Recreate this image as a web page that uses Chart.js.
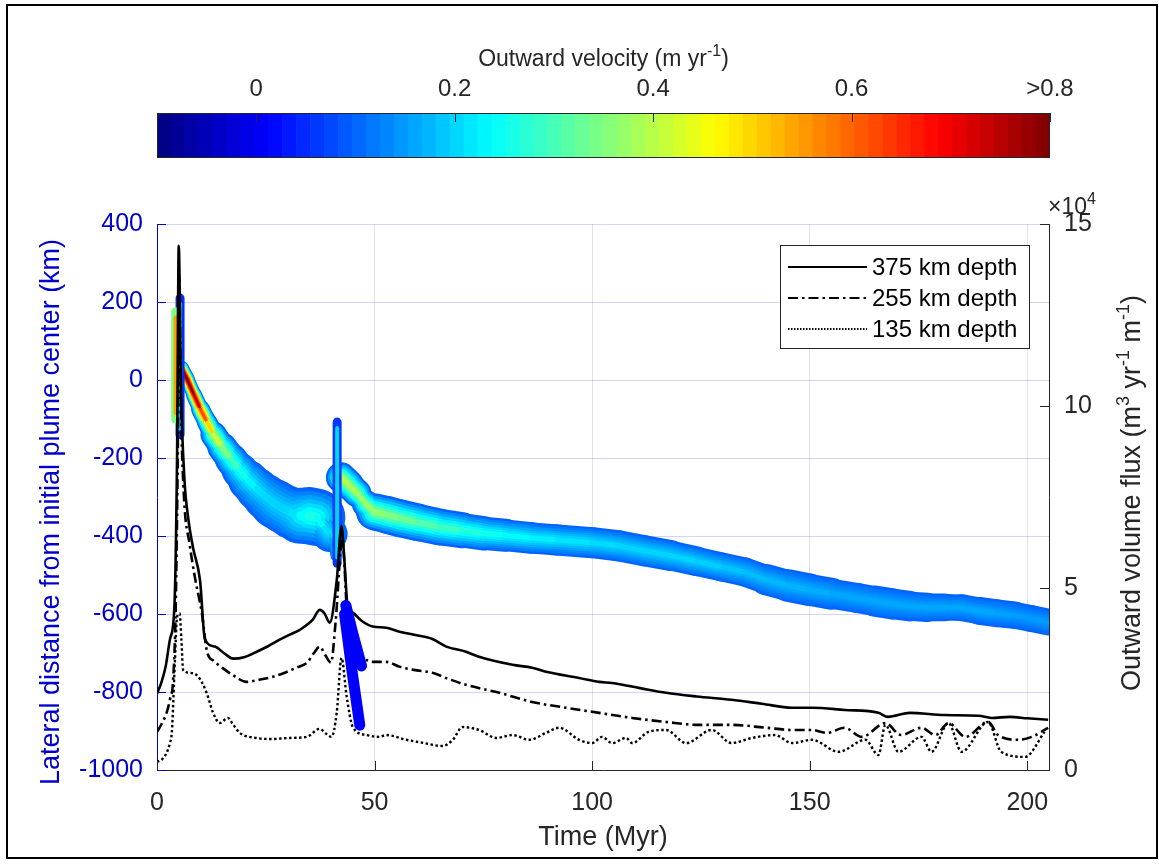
<!DOCTYPE html>
<html>
<head>
<meta charset="utf-8">
<script src="https://cdn.jsdelivr.net/npm/chart.js@4.4.1/dist/chart.umd.min.js"></script>
<style>
  html, body { margin: 0; padding: 0; background: #fff; }
  #wrap { position: relative; width: 1159px; height: 866px; overflow: hidden; }
  #mainCanvas, #barCanvas { position: absolute; left: 0; top: 0; }
  #frame { position: absolute; left: 6px; top: 4px; width: 1152px; height: 855px; border: 2px solid #000; box-sizing: border-box; pointer-events: none; }
</style>
</head>
<body>
<div id="wrap">
  <canvas id="mainCanvas" width="1159" height="866"></canvas>
  <canvas id="barCanvas" width="1159" height="175"></canvas>
  <div id="frame"></div>
</div>
<script>
//fonts and colours
const FONT = "'Liberation Sans', Arial, sans-serif";
const TXT = '#262626';
const BLUE_AX = '#0000cc';

//colorbar
const cbMin = -0.1, cbMax = 0.8, cbLevels = 64;
const cbTicks = [0, 0.2, 0.4, 0.6, 0.8];
const cbTickLabels = ['0', '0.2', '0.4', '0.6', '>0.8'];

//axis ticks
const xTicks = [0, 50, 100, 150, 200];
const yTicks = [-1000, -800, -600, -400, -200, 0, 200, 400];
const y2Ticks = [0, 5, 10, 15];

//plume track: time (Myr), centre (km), half width (km), core velocity (m/yr)
const bandT  = [5.6, 7, 8.5, 10, 11.5, 13, 15, 17, 19, 21, 23, 25, 27, 29, 31, 33, 35, 36.7, 38.5, 39.7, 40.5, 41.4,
                42.3, 44, 46, 48, 50, 53, 56, 60, 65, 70, 75, 80, 86, 92, 100, 106, 112, 118, 124, 130, 135, 140,
                145, 150, 155, 161, 165, 169, 173, 177, 181, 185, 189, 193, 197, 201, 205];
const bandC  = [30, 0, -38, -75, -108, -140, -173, -203, -232, -258, -280, -300, -317, -330, -341, -348, -348, -352, -380, -395, -455, null,
                -250, -268, -290, -318, -338, -346, -355, -365, -377, -385, -393, -398, -405, -410, -417, -425, -438, -450, -465, -480, -492, -512,
                -527, -538, -548, -559, -567, -574, -580, -583, -583, -584, -592, -598, -603, -612, -621];
const bandHW = [40, 45, 48, 52, 55, 58, 62, 66, 70, 72, 74, 74, 74, 72, 70, 70, 74, 76, 72, 66, 18, null,
                55, 52, 50, 48, 48, 50, 50, 49, 48, 46, 43, 42, 40, 40, 40, 40, 41, 40, 38, 38, 38, 41,
                42, 43, 40, 38, 40, 41, 38, 37, 34, 34, 36, 36, 35, 35, 35];
const bandV  = [0.8, 0.8, 0.78, 0.7, 0.55, 0.45, 0.38, 0.32, 0.27, 0.24, 0.22, 0.2, 0.2, 0.2, 0.2, 0.22, 0.26, 0.26, 0.22, 0.2, 0.12, null,
                0.4, 0.4, 0.38, 0.38, 0.37, 0.36, 0.34, 0.32, 0.3, 0.28, 0.26, 0.24, 0.23, 0.22, 0.21, 0.2, 0.2, 0.2, 0.2, 0.19, 0.18, 0.18,
                0.17, 0.17, 0.16, 0.16, 0.16, 0.16, 0.16, 0.16, 0.16, 0.16, 0.16, 0.16, 0.15, 0.15, 0.15];
const bandEdgeV = 0.1;

//vertical jumps of the track
const colT = [4.3, 5.3, 41.4];
const colLow = [-100, -140, -470];
const colHigh = [175, 210, -108];
const colEdgeV = [0.35, 0.05, 0.06];
const colCoreV = [0.55, 0.2, 0.2];

//slow branches near 45 Myr
const branchAT = [43.4, 45.0, 47.0];
const branchAY = [-578, -650, -733];
const branchBT = [43.1, 44.8, 46.6];
const branchBY = [-600, -745, -885];
const branchV = 0.01;

//outward volume flux (x10^4 m3/yr/m)
const t375 = [0, 1, 2, 3, 4, 4.6, 5.0, 5.5, 6.3, 7.2, 8.3, 9.9, 11.0, 13.3, 15.5, 17.5, 20, 22.9, 25.5, 28.2, 30.5, 32.8, 35.8, 37.4, 38.5, 39.7,
              41.3, 42.4, 43.1, 43.8, 45, 47, 49.6, 52.7, 55.7, 58.8, 63.3, 66.5, 71, 74, 81.7, 86.2, 89.4, 97, 101.6, 104.6, 111, 117, 124,
              132, 139, 146, 150.5, 158, 165.8, 168, 173, 181, 188.8, 191.8, 196, 200, 204.8];
const f375 = [2.1, 2.4, 2.85, 3.6, 4.5, 8.5, 14.4, 10.5, 8.0, 6.9, 6.1, 5.2, 3.6, 3.39, 3.2, 3.06, 3.1, 3.25, 3.4, 3.58, 3.72, 3.85, 4.13, 4.4, 4.3, 4.05,
              5.2, 6.7, 5.7, 4.5, 4.32, 4.1, 3.94, 3.91, 3.8, 3.72, 3.6, 3.39, 3.25, 3.11, 2.89, 2.81, 2.7, 2.53, 2.42, 2.39, 2.25, 2.12, 2.02,
              1.93, 1.82, 1.71, 1.71, 1.65, 1.57, 1.46, 1.57, 1.51, 1.49, 1.43, 1.46, 1.42, 1.38];
const t255 = [0, 1, 2.2, 3.0, 3.7, 4.3, 4.8, 5.1, 5.5, 6.2, 7.5, 8.7, 10.3, 11.5, 13, 15.1, 17.5, 20.6, 23.5, 26.6, 29.5, 32, 34.5, 36, 37.4, 38.7, 40,
              41, 42.6, 43.8, 45, 47, 49.6, 52.7, 55.7, 59, 63.3, 67, 71, 78.7, 86.2, 94, 101.6, 109.2, 117, 124.5, 132, 140, 146, 150.5, 154,
              158, 162, 167.4, 171, 175.7, 178.9, 181.9, 185.8, 191, 193.3, 198, 201, 204.8];
const f255 = [1.05, 1.25, 1.57, 1.95, 2.48, 4.5, 9.0, 13.6, 10.0, 7.5, 6.2, 5.3, 4.32, 3.25, 3.0, 2.8, 2.6, 2.42, 2.48, 2.56, 2.68, 2.81, 2.95, 3.2, 3.39, 3.15, 2.95,
              4.0, 6.3, 4.05, 3.3, 3.1, 2.97, 2.97, 2.84, 2.75, 2.67, 2.5, 2.34, 2.12, 1.87, 1.71, 1.57, 1.43, 1.32, 1.24, 1.24, 1.16, 1.1, 1.1, 1.02,
              1.16, 0.91, 1.29, 0.96, 1.16, 0.96, 1.29, 0.91, 1.32, 0.96, 0.83, 0.91, 1.16];
const t135 = [0, 1.2, 2.2, 3.0, 3.4, 4.1, 4.6, 5.2, 5.6, 6.0, 7.6, 9.5, 11.4, 12.9, 14.4, 16.3, 17.5, 19, 22.9, 26, 30.5, 34.4, 37.4, 38.8, 40.1, 41.3,
              42.4, 43.6, 45, 48.2, 51.1, 52.7, 57.3, 61, 65.6, 68, 70.2, 74, 78, 81.7, 85.6, 89.4, 92.4, 97, 100, 102.3, 104.6, 107.8, 109.2,
              113, 117, 121.6, 127.5, 132, 136.7, 142, 146, 150.5, 156.7, 162.8, 165.8, 167.4, 170.4, 175.7, 178, 181.9, 184.9, 191, 194, 199.5, 204];
const f135 = [0.22, 0.3, 0.47, 0.75, 1.02, 2.95, 4.2, 4.3, 3.6, 2.75, 2.67, 2.56, 2.12, 1.57, 1.29, 1.43, 1.25, 1.02, 0.88, 0.85, 0.88, 0.91, 1.13, 1.0, 0.91, 1.57,
              3.08, 2.01, 1.18, 0.96, 0.91, 0.96, 0.83, 0.75, 0.66, 0.83, 1.18, 1.1, 0.88, 0.96, 0.83, 1.02, 1.16, 0.83, 0.74, 0.91, 0.74, 0.88, 0.74,
              1.05, 1.1, 0.74, 1.1, 0.74, 0.88, 0.96, 0.74, 0.83, 0.5, 0.83, 0.41, 1.24, 0.5, 0.91, 0.5, 1.29, 0.5, 1.32, 0.5, 0.36, 1.05];


//jet colour map over the colorbar range
function jet(v) {
    var u = (v - cbMin) / (cbMax - cbMin);
    u = Math.max(0, Math.min(1, u));
    var c = function (a) { return Math.round(255 * Math.max(0, Math.min(1, 1.5 - Math.abs(4 * u - a)))); };
    return 'rgb(' + c(3) + ',' + c(2) + ',' + c(1) + ')';
}

function pts(xs, ys) {
    return xs.map(function (x, i) { return { x: x, y: ys[i] }; });
}

//text with superscripts, parts = [[text, isSup], ...]
function drawRich(ctx, parts, x, y, size, align) {
    var big = size + 'px ' + FONT, small = Math.round(size * 0.68) + 'px ' + FONT;
    var total = 0;
    var ws = parts.map(function (p) {
        ctx.font = p[1] ? small : big;
        var w = ctx.measureText(p[0]).width;
        total += w;
        return w;
    });
    var cx = align === 'center' ? x - total / 2 : x;
    ctx.textAlign = 'left';
    ctx.textBaseline = 'alphabetic';
    parts.forEach(function (p, i) {
        ctx.font = p[1] ? small : big;
        ctx.fillText(p[0], cx, p[1] ? y - size * 0.42 : y);
        cx += ws[i];
    });
}


// ---------- colorbar ----------
const cbLabels = [];
const cbOnes = [];
const cbColors = [];
for (var i = 0; i < cbLevels; i++) {
    cbLabels.push(i);
    cbOnes.push(1);
    cbColors.push(jet(cbMin + (i + 0.5) * (cbMax - cbMin) / cbLevels));
}

const cbFrame = {
    id: 'cbFrame',
    afterDraw(chart) {
        var ctx = chart.ctx, a = chart.chartArea, s = chart.scales.xt;
        ctx.save();
        ctx.strokeStyle = TXT;
        ctx.lineWidth = 1;
        ctx.strokeRect(a.left + 0.5, a.top + 0.5, a.right - a.left - 1, a.bottom - a.top - 1);
        ctx.beginPath();
        cbTicks.forEach(function (v) {
            var p = Math.round(s.getPixelForValue(v)) + 0.5;
            ctx.moveTo(p, a.top);
            ctx.lineTo(p, a.top + 9);
        });
        ctx.stroke();
        ctx.fillStyle = TXT;
        drawRich(ctx, [['Outward velocity (m yr', false], ['-1', true], [')', false]], (a.left + a.right) / 2, 66, 23, 'center');
        ctx.restore();
    }
};

new Chart(document.getElementById('barCanvas'), {
    type: 'bar',
    data: {
        labels: cbLabels,
        datasets: [{
            data: cbOnes,
            backgroundColor: cbColors,
            borderWidth: 0,
            barPercentage: 1,
            categoryPercentage: 1
        }]
    },
    options: {
        responsive: false,
        animation: false,
        devicePixelRatio: 1,
        layout: { padding: { left: 157, right: 109, top: 0, bottom: 17 } },
        plugins: { legend: { display: false }, tooltip: { enabled: false } },
        scales: {
            x: { type: 'category', display: false },
            xt: {
                type: 'linear', position: 'top', min: cbMin, max: cbMax, offset: false,
                afterBuildTicks: function (s) { s.ticks = cbTicks.map(function (v) { return { value: v }; }); },
                ticks: {
                    padding: 9, color: TXT, maxRotation: 0, autoSkip: false,
                    font: { family: FONT, size: 24 },
                    callback: function (v) { return cbTickLabels[cbTicks.indexOf(v)]; }
                },
                grid: { display: false, drawTicks: false, offset: false },
                border: { display: false },
                afterFit: function (s) { s.height = 113; }
            },
            y: { display: false, min: 0, max: 1 }
        }
    },
    plugins: [cbFrame]
});


// ---------- main chart ----------
function segWidth(ctx, frac) {
    var ys = ctx.chart.scales.y;
    var i0 = ctx.p0DataIndex, i1 = ctx.p1DataIndex;
    var hw = (bandHW[i0] + bandHW[i1]) / 2;
    var hwPx = Math.abs(ys.getPixelForValue(hw) - ys.getPixelForValue(0));
    var dx = ctx.p1.x - ctx.p0.x, dy = ctx.p1.y - ctx.p0.y;
    var len = Math.hypot(dx, dy) || 1;
    return Math.max(1, 2 * hwPx * Math.abs(dx) / len * frac);
}

const bandLayers = [
    { w: 1.0, f: 0 },
    { w: 0.86, f: 0.17 },
    { w: 0.72, f: 0.33 },
    { w: 0.58, f: 0.5 },
    { w: 0.44, f: 0.67 },
    { w: 0.3, f: 0.83 },
    { w: 0.16, f: 1 }
];

const datasets = [];

//black flux lines
datasets.push({ type: 'line', label: '375 km depth', yAxisID: 'y2', data: pts(t375, f375), borderColor: '#000', borderWidth: 2.6,
    borderDash: [], pointRadius: 0, cubicInterpolationMode: 'monotone', order: 2 });
datasets.push({ type: 'line', label: '255 km depth', yAxisID: 'y2', data: pts(t255, f255), borderColor: '#000', borderWidth: 2.6,
    borderDash: [10, 4, 2.5, 4], pointRadius: 0, cubicInterpolationMode: 'monotone', order: 2 });
datasets.push({ type: 'line', label: '135 km depth', yAxisID: 'y2', data: pts(t135, f135), borderColor: '#000', borderWidth: 2.4,
    borderDash: [2.5, 2.5], pointRadius: 0, cubicInterpolationMode: 'monotone', order: 2 });

//slow branches
[[branchAT, branchAY], [branchBT, branchBY]].forEach(function (b) {
    datasets.push({ type: 'line', yAxisID: 'y', data: pts(b[0], b[1]), borderColor: jet(branchV), borderWidth: 11,
        borderCapStyle: 'round', borderJoinStyle: 'round', pointRadius: 0, order: 1 });
});

//vertical jumps
colT.forEach(function (t, i) {
    datasets.push({ type: 'line', yAxisID: 'y', data: [{ x: t, y: colLow[i] }, { x: t, y: colHigh[i] }],
        borderColor: jet(colEdgeV[i]), borderWidth: 9, borderCapStyle: 'round', pointRadius: 0, order: 6 });
    datasets.push({ type: 'line', yAxisID: 'y', data: [{ x: t, y: colLow[i] + 15 }, { x: t, y: colHigh[i] - 15 }],
        borderColor: jet(colCoreV[i]), borderWidth: 4, borderCapStyle: 'round', pointRadius: 0, order: 5 });
});

//plume track, drawn as nested thick lines
bandLayers.forEach(function (L, k) {
    datasets.push({
        type: 'line', yAxisID: 'y', data: pts(bandT, bandC),
        borderColor: jet(bandEdgeV), borderWidth: 10, borderCapStyle: 'round', borderJoinStyle: 'round',
        pointRadius: 0, spanGaps: false, tension: 0, order: 20 - k,
        segment: {
            borderCapStyle: 'round',
            borderWidth: function (ctx) { return segWidth(ctx, L.w); },
            borderColor: function (ctx) {
                var core = (bandV[ctx.p0DataIndex] + bandV[ctx.p1DataIndex]) / 2;
                return jet(bandEdgeV + L.f * (core - bandEdgeV));
            }
        }
    });
});

const innerTicks = {
    id: 'innerTicks',
    afterDraw(chart) {
        var ctx = chart.ctx, a = chart.chartArea, sc = chart.scales;
        ctx.save();
        ctx.lineWidth = 1;
        ctx.strokeStyle = BLUE_AX;
        ctx.beginPath();
        yTicks.forEach(function (v) {
            var p = Math.round(sc.y.getPixelForValue(v)) + 0.5;
            ctx.moveTo(a.left, p); ctx.lineTo(a.left + 9, p);
        });
        ctx.stroke();
        ctx.strokeStyle = TXT;
        ctx.beginPath();
        y2Ticks.forEach(function (v) {
            var p = Math.round(sc.y2.getPixelForValue(v)) + 0.5;
            ctx.moveTo(a.right, p); ctx.lineTo(a.right - 9, p);
        });
        xTicks.forEach(function (v) {
            var p = Math.round(sc.x.getPixelForValue(v)) + 0.5;
            ctx.moveTo(p, a.bottom); ctx.lineTo(p, a.bottom - 9);
        });
        ctx.stroke();

        //right axis title and exponent
        ctx.fillStyle = TXT;
        ctx.save();
        ctx.translate(1131, 493);
        ctx.rotate(-Math.PI / 2);
        drawRich(ctx, [['Outward volume flux (m', false], ['3', true], [' yr', false], ['-1', true], [' m', false], ['-1', true], [')', false]],
            0, 9, 27, 'center');
        ctx.restore();
        drawRich(ctx, [['\u00d710', false], ['4', true]], a.right - 1, a.top - 10, 23, 'left');
        ctx.restore();
    }
};

const boxLegend = {
    id: 'boxLegend',
    afterDraw(chart) {
        var ctx = chart.ctx, a = chart.chartArea;
        var left = a.right - 269, top = a.top + 21, w = 249, h = 103;
        ctx.save();
        ctx.fillStyle = '#fff';
        ctx.fillRect(left, top, w, h);
        ctx.strokeStyle = TXT;
        ctx.lineWidth = 1;
        ctx.strokeRect(left + 0.5, top + 0.5, w, h);
        var items = chart.data.datasets.filter(function (d) { return d.label; });
        items.forEach(function (d, i) {
            var y = top + 22 + i * 31;
            ctx.strokeStyle = d.borderColor;
            ctx.lineWidth = 2;
            ctx.setLineDash(i === 2 ? [1.5, 1.5] : d.borderDash);
            ctx.beginPath();
            ctx.moveTo(left + 8, y);
            ctx.lineTo(left + 87, y);
            ctx.stroke();
            ctx.setLineDash([]);
            ctx.fillStyle = '#000';
            ctx.font = '24px ' + FONT;
            ctx.textAlign = 'left';
            ctx.textBaseline = 'middle';
            ctx.fillText(d.label, left + 92, y + 1);
        });
        ctx.restore();
    }
};

new Chart(document.getElementById('mainCanvas'), {
    data: { datasets: datasets },
    options: {
        responsive: false,
        animation: false,
        devicePixelRatio: 1,
        layout: { padding: { left: 30, right: 10, top: 224, bottom: 12 } },
        plugins: { legend: { display: false }, tooltip: { enabled: false } },
        scales: {
            x: {
                type: 'linear', position: 'bottom', min: 0, max: 205,
                afterBuildTicks: function (s) { s.ticks = xTicks.map(function (v) { return { value: v }; }); },
                ticks: { color: TXT, padding: 18, maxRotation: 0, font: { family: FONT, size: 25 },
                    callback: function (v) { return String(v); } },
                grid: {
                    drawTicks: false,
                    color: function (c) { return c.tick && c.tick.value === 0 ? 'rgba(0,0,0,0)' : 'rgba(40,40,40,0.13)'; }
                },
                border: { color: TXT, width: 1 },
                title: { display: true, text: 'Time (Myr)', color: TXT, font: { family: FONT, size: 27 }, padding: { top: 0, bottom: 0 } },
                afterFit: function (s) { s.height = 84; }
            },
            y: {
                type: 'linear', position: 'left', min: -1000, max: 400,
                afterBuildTicks: function (s) { s.ticks = yTicks.map(function (v) { return { value: v }; }); },
                ticks: { color: BLUE_AX, padding: 14, font: { family: FONT, size: 25 },
                    callback: function (v) { return String(v); } },
                grid: {
                    drawTicks: false,
                    color: function (c) { return c.tick && c.tick.value === -1000 ? 'rgba(0,0,0,0)' : 'rgba(0,0,204,0.17)'; }
                },
                border: { color: BLUE_AX, width: 1 },
                title: { display: true, text: 'Lateral distance from initial plume center (km)    ', color: BLUE_AX,
                    font: { family: FONT, size: 27 }, padding: { top: 5, bottom: 0 } },
                afterFit: function (s) { s.width = 127; }
            },
            y2: {
                type: 'linear', position: 'right', min: 0, max: 15,
                afterBuildTicks: function (s) { s.ticks = y2Ticks.map(function (v) { return { value: v }; }); },
                ticks: { color: TXT, padding: 15, font: { family: FONT, size: 25 },
                    callback: function (v) { return String(v); } },
                grid: { drawOnChartArea: false, drawTicks: false },
                border: { color: TXT, width: 1 },
                afterFit: function (s) { s.width = 100; }
            }
        }
    },
    plugins: [innerTicks, boxLegend]
});
</script>
</body>
</html>
